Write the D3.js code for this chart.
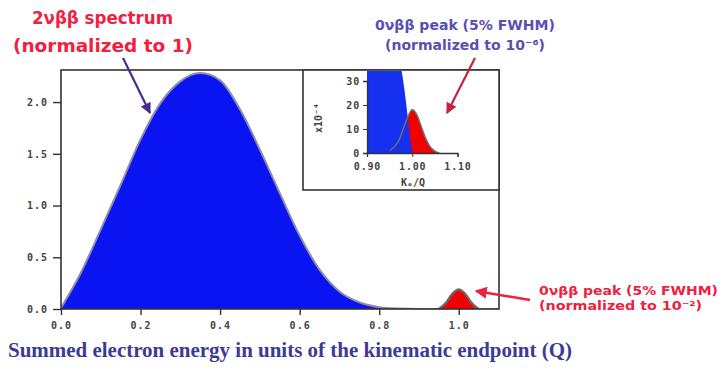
<!DOCTYPE html>
<html><head><meta charset="utf-8">
<script src="https://cdn.jsdelivr.net/npm/d3@7"></script>
<style>body{margin:0;background:#fff}</style></head>
<body><svg id="c" width="723" height="371"></svg>
<script>
// ---- data ----
const mainX = [0,0.05,0.10,0.15,0.20,0.25,0.30,0.35,0.40,0.45,0.50,0.55,0.60,0.65,0.70,0.75,0.80,0.85,0.90,1.10];
const mainY = [0.01,0.35,0.77,1.20,1.64,1.99,2.20,2.28,2.21,1.93,1.54,1.12,0.71,0.38,0.17,0.065,0.018,0.004,0,0];
const peakX = [0.95,0.96,0.97,0.98,0.99,1.00,1.01,1.02,1.03,1.04,1.05];
const peakY = [0,0.03,0.07,0.13,0.17,0.19,0.17,0.13,0.07,0.03,0];
const insetBlueX = [0.90,0.93,0.96,0.975,0.98,0.985,0.99,0.995,1.00];
const insetBlueY = [300,150,60,36,30,23,15,7,0];
const insetRedX = [0.95,0.96,0.97,0.98,0.99,1.00,1.01,1.02,1.03,1.04,1.05,1.06];
const insetRedY = [1,2.5,5,10,15,18,16,11,6,2.5,0.8,0];
const xTicks = [0,0.2,0.4,0.6,0.8,1.0];
const yTicks = [0,0.5,1.0,1.5,2.0];
const insetXTicks = [0.90,1.00,1.10];
const insetYTicks = [0,10,20,30];

const svg = d3.select("#c");
const defs = svg.append("defs");
function marker(id,color){
  defs.append("marker").attr("id",id).attr("viewBox","0 0 10 10").attr("refX",9).attr("refY",5)
    .attr("markerWidth",5).attr("markerHeight",5).attr("orient","auto")
    .append("path").attr("d","M0,0L10,5L0,10z").attr("fill",color);
}
marker("mPurple","#4a2c8c"); marker("mCrimson","#c8203e"); marker("mRed","#ee2040");

const x = d3.scaleLinear().domain([0,1.1]).range([61,498.5]);
const y = d3.scaleLinear().domain([0,2.31]).range([309,70]);

defs.append("clipPath").attr("id","clipMain").append("rect").attr("x",61).attr("y",70).attr("width",438).attr("height",239);

const mainData = mainX.map((d,i)=>[d,mainY[i]]);
const peakData = peakX.map((d,i)=>[d,peakY[i]]);
const area = d3.area().x(d=>x(d[0])).y0(y(0)).y1(d=>y(d[1])).curve(d3.curveMonotoneX);
const line = d3.line().x(d=>x(d[0])).y(d=>y(d[1])).curve(d3.curveMonotoneX);

const gMain = svg.append("g").attr("clip-path","url(#clipMain)");
gMain.append("path").datum(mainData).attr("d",area).attr("fill","#0a14f2");
gMain.append("path").datum(mainData).attr("d",line).attr("fill","none").attr("stroke","#8c8ca8").attr("stroke-width",2);
gMain.append("path").datum(peakData).attr("d",area).attr("fill","#f00000");
gMain.append("path").datum(peakData).attr("d",line).attr("fill","none").attr("stroke","#6a6a6a").attr("stroke-width",2.2);

// frame
svg.append("rect").attr("x",61).attr("y",70).attr("width",438).attr("height",239)
  .attr("fill","none").attr("stroke","#333").attr("stroke-width",1.6);

const tickFont = "'DejaVu Sans Mono', monospace";
const xAxis = svg.append("g").attr("transform","translate(0,309)")
  .call(d3.axisBottom(x).tickValues(xTicks).tickSize(6).tickPadding(7).tickFormat(d3.format(".1f")));
const yAxis = svg.append("g").attr("transform","translate(61,0)")
  .call(d3.axisLeft(y).tickValues(yTicks).tickSize(8).tickPadding(5).tickFormat(d3.format(".1f")));
[xAxis,yAxis].forEach(g=>{
  g.select(".domain").remove();
  g.selectAll(".tick line").attr("stroke","#333").attr("stroke-width",1.4);
  g.selectAll(".tick text").attr("fill","#444").attr("font-family",tickFont)
   .attr("font-weight","bold").attr("font-size",10).attr("letter-spacing",1);
});

// ---- inset ----
svg.append("rect").attr("x",303).attr("y",70).attr("width",196).attr("height",120)
  .attr("fill","#fff").attr("stroke","#333").attr("stroke-width",1.6);
const ix = d3.scaleLinear().domain([0.9,1.1]).range([367,457.5]);
const iy = d3.scaleLinear().domain([0,30]).range([153,81]);
defs.append("clipPath").attr("id","clipInset").append("rect").attr("x",304).attr("y",71).attr("width",194).attr("height",84);
const iArea = d3.area().x(d=>ix(d[0])).y0(iy(0)).y1(d=>iy(d[1])).curve(d3.curveMonotoneX);
const iLine = d3.line().x(d=>ix(d[0])).y(d=>iy(d[1])).curve(d3.curveMonotoneX);
const blueI = insetBlueX.map((d,i)=>[d,insetBlueY[i]]);
const redI = insetRedX.map((d,i)=>[d,insetRedY[i]]);
const gI = svg.append("g").attr("clip-path","url(#clipInset)");
gI.append("path").datum(redI).attr("d",iArea).attr("fill","#f00000");
gI.append("path").datum(blueI).attr("d",iArea).attr("fill","#1530ee");
gI.append("path").datum(redI).attr("d",iLine).attr("fill","none").attr("stroke","#707070").attr("stroke-width",1.4);

const ixAxis = svg.append("g").attr("transform","translate(0,153)")
  .call(d3.axisBottom(ix).tickValues(insetXTicks).tickSize(4).tickPadding(6).tickFormat(d3.format(".2f")));
const iyAxis = svg.append("g").attr("transform","translate(367,0)")
  .call(d3.axisLeft(iy).tickValues(insetYTicks).tickSize(4).tickPadding(3).tickFormat(d3.format("d")));
[ixAxis,iyAxis].forEach(g=>{
  g.select(".domain").attr("stroke","#333").attr("stroke-width",1.3);
  g.selectAll(".tick line").attr("stroke","#333");
  g.selectAll(".tick text").attr("fill","#444").attr("font-family",tickFont)
   .attr("font-weight","bold").attr("font-size",10).attr("letter-spacing",0.8);
});
svg.append("text").attr("transform","translate(322,118) rotate(-90)").attr("text-anchor","middle")
  .attr("font-family",tickFont).attr("font-weight","bold").attr("font-size",10).attr("fill","#444")
  .text("x10⁻⁴");
svg.append("text").attr("x",413).attr("y",186).attr("text-anchor","middle")
  .attr("font-family",tickFont).attr("font-weight","bold").attr("font-size",10).attr("fill","#444")
  .text("Kₑ/Q");

// ---- annotations ----
const annFont = "'DejaVu Sans', sans-serif";
function label(xp,yp,txt,color,size,len){
  svg.append("text").attr("x",xp).attr("y",yp).attr("fill",color).attr("font-family",annFont)
    .attr("font-weight","bold").attr("font-size",size).attr("textLength",len).attr("lengthAdjust","spacingAndGlyphs").text(txt);
}
label(32,24,"2νββ spectrum","#f0203f",18,141);
label(13,52,"(normalized to 1)","#f0203f",18,180);
label(375,30,"0νββ peak (5% FWHM)","#5a4fb0",14,180);
label(385,50,"(normalized to 10⁻⁶)","#5a4fb0",14,160);
label(539,295,"0νββ peak (5% FWHM)","#ee2040",12,179);
label(539,310,"(normalized to 10⁻²)","#ee2040",12,163);

svg.append("line").attr("x1",123).attr("y1",58).attr("x2",150).attr("y2",113)
  .attr("stroke","#4a2c8c").attr("stroke-width",2.2).attr("marker-end","url(#mPurple)");
svg.append("line").attr("x1",475).attr("y1",58).attr("x2",447).attr("y2",113)
  .attr("stroke","#c8203e").attr("stroke-width",2.2).attr("marker-end","url(#mCrimson)");
svg.append("line").attr("x1",530).attr("y1",300).attr("x2",476).attr("y2",291)
  .attr("stroke","#ee2040").attr("stroke-width",2.4).attr("marker-end","url(#mRed)");

svg.append("text").attr("x",8).attr("y",357).attr("fill","#3b3b95")
  .attr("font-family","'Liberation Serif', serif").attr("font-weight","bold").attr("font-size",20)
  .attr("textLength",564).attr("lengthAdjust","spacingAndGlyphs")
  .text("Summed electron energy in units of the kinematic endpoint (Q)");
</script></body></html>
